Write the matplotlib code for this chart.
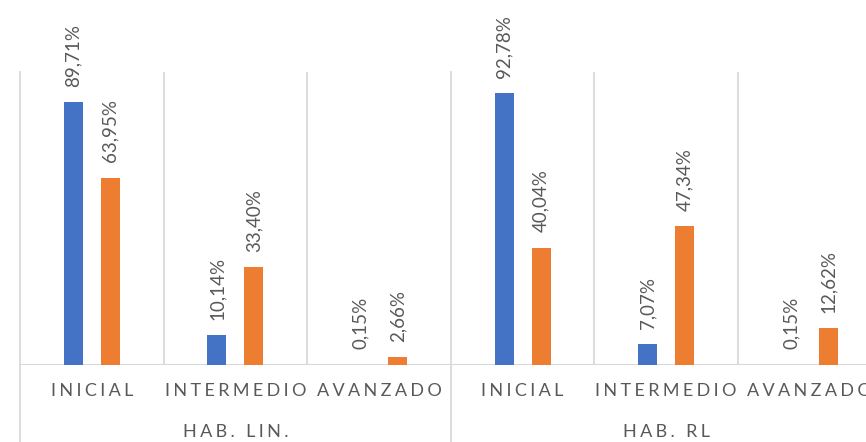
import matplotlib
matplotlib.use("Agg")
import matplotlib.pyplot as plt
import numpy as np

# data
groups = ["HAB. LIN.", "HAB. RL"]
levels = ["INICIAL", "INTERMEDIO", "AVANZADO"]
serie_azul = [89.71, 10.14, 0.15, 92.78, 7.07, 0.15]
serie_naranja = [63.95, 33.40, 2.66, 40.04, 47.34, 12.62]

BLUE = "#4472C4"
ORANGE = "#ED7D31"
GRID = "#D9D9D9"
TXT = "#595959"

plt.rcParams["font.family"] = ["Lato", "DejaVu Sans"]


def spaced(s):
    # wide letter spacing like the original axis labels
    return "\u2009\u200a".join(s)


W, H = 866, 442
fig = plt.figure(figsize=(W / 100, H / 100), dpi=100)
ax_left, ax_right, ax_base, ax_top = 20, 881.6, 365, 72
ax = fig.add_axes([ax_left / W, (H - ax_base) / H,
                   (ax_right - ax_left) / W, (ax_base - ax_top) / H])

n = len(serie_azul)
x = np.arange(n)
bw = 0.132
off = 0.129
ax.bar(x - off, serie_azul, width=bw, color=BLUE, zorder=3)
ax.bar(x + off, serie_naranja, width=bw, color=ORANGE, zorder=3)

for xi, v in zip(x - off, serie_azul):
    ax.annotate(f"{v:.2f}%".replace(".", ","), (xi, v), xytext=(0, 11),
                textcoords="offset points", rotation=90, ha="center",
                va="bottom", color=TXT, fontsize=13.5)
for xi, v in zip(x + off, serie_naranja):
    ax.annotate(f"{v:.2f}%".replace(".", ","), (xi, v), xytext=(0, 11),
                textcoords="offset points", rotation=90, ha="center",
                va="bottom", color=TXT, fontsize=13.5)

ax.set_xlim(-0.5, n - 0.5)
ax.set_ylim(0, 100)

# separators between categories and groups
below = -(H - ax_base) / (ax_base - ax_top)
for k in range(n + 1):
    xs = k - 0.5
    if k % len(levels) == 0:
        ax.axvline(xs, ymin=below, ymax=1, color=GRID, lw=1.3, clip_on=False, zorder=1)
    else:
        ax.axvline(xs, ymin=0, ymax=1, color=GRID, lw=1.3, zorder=1)
ax.axhline(0, color=GRID, lw=1.5, zorder=2)

for s in ax.spines.values():
    s.set_visible(False)
ax.set_yticks([])
ax.set_xticks(x)
ax.set_xticklabels([spaced(l) for l in levels * len(groups)], color=TXT, fontsize=13)
ax.tick_params(axis="x", length=0, pad=13)

for g, name in enumerate(groups):
    cx = g * len(levels) + (len(levels) - 1) / 2
    ax.annotate(spaced(name), (cx, 0), xytext=(0, -48), textcoords="offset points",
                ha="center", va="center", color=TXT, fontsize=13,
                annotation_clip=False)

fig.savefig("out.png", dpi=100)
